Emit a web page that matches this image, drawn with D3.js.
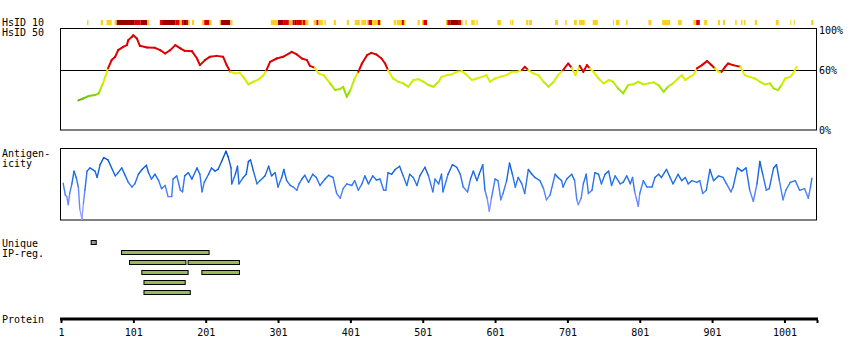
<!DOCTYPE html>
<html><head><meta charset="utf-8">
<script src="https://cdn.jsdelivr.net/npm/d3@7"></script>
<style>
html,body{margin:0;padding:0;background:#fff;}
text{font-family:"DejaVu Sans Mono",monospace;font-size:10px;fill:#000;}
</style></head>
<body><svg id="c" width="850" height="360"></svg>
<script>
// ---- data ----
const proteinLength = 1046;
const axisTicks = [1,101,201,301,401,501,601,701,801,901,1001];
const pctLabels = ["100%","60%","0%"];
// HsID10 strip segments: [start, end, level] level 1=yellow 2=red 3=dark red
const hsid10 = [
[37,39,1],[56,59,1],[64,71,1],[75,78,1],[78,103,3],[103,111,2],[111,120,3],[120,123,1],
[137,138,1],[138,142,2],[142,159,3],[159,165,2],[165,168,1],[168,170,2],[170,175,3],[175,177,2],[177,179,1],[182,185,1],
[196,199,1],[199,206,2],[206,209,1],[220,222,1],[222,235,3],[235,238,1],
[291,301,1],[301,308,3],[308,316,2],[316,321,1],[321,324,2],[324,326,3],[326,334,2],[334,335,1],[335,339,2],[339,343,1],
[350,354,1],[354,357,2],[357,363,1],[365,367,1],[378,381,1],[396,399,1],[407,414,1],[416,423,1],[424,426,1],[426,431,2],[431,439,1],[439,442,2],[442,443,1],
[461,464,1],[465,472,1],[472,475,2],[475,477,1],[494,497,1],[500,502,1],[502,507,2],
[533,535,1],[535,539,2],[539,551,3],[551,554,2],[554,556,1],[560,562,1],[568,573,1],[575,577,1],
[604,609,1],[622,623,1],[624,626,1],[644,647,1],[648,652,1],[684,688,1],[698,700,1],[710,714,1],[717,725,1],[736,743,1],
[764,765,1],[768,773,1],[782,784,1],[813,817,1],[832,843,1],[854,859,1],[875,879,1],[879,884,2],[890,894,1],[909,912,1],
[916,919,1],[933,935,1],[941,943,1],[945,947,1],[960,963,1],[989,993,1],[1009,1010,1],[1014,1015,1],[1038,1041,1]
];
// HsID50 trace: [residue, percent]
const hsid50 = [
[25,29.5],[32,31.5],[39,33.8],[48,34.8],[53,36.5],[55,39.8],[59,46.5],[63,54.7],[66,61.4],[71,69.7],[76,73.1],[80,79.6],
[87,82.9],[92,84.6],[94,89.6],[99,92.9],[101,94.5],[106,91.2],[110,83.9],[120,82.3],[131,81.9],[138,79.6],[145,76.3],
[152,79.6],[159,84.6],[166,81.3],[172,78.9],[182,78.6],[189,71.3],[193,64.7],[200,69.7],[207,73.1],[216,73.9],[225,73.1],
[230,64.7],[235,58],[242,56.4],[248,57],[253,53],[260,45.5],[267,48.1],[274,50.4],[281,54.7],[285,59.7],[290,68],[299,71.3],
[308,73],[320,77.9],[327,75.3],[334,71.3],[341,69.7],[345,64],[352,62],[357,56.4],[364,54.7],[373,46.5],[380,39.8],[387,40.8],
[391,43.1],[396,33.1],[401,39.8],[407,51.4],[412,58],[417,66.3],[424,74.6],[430,76.9],[437,75.3],[444,71.3],[449,66.3],
[453,59.7],[460,51.4],[467,48.1],[474,46.5],[481,43.1],[488,49.8],[495,50.7],[502,48.1],[509,44.8],[516,43.1],[523,48.1],
[527,53],[534,54.7],[541,55.4],[548,58],[555,58.7],[562,54.7],[569,49.8],[576,51.4],[583,53],[589,54.7],[594,48.1],[601,51.4],
[608,53],[617,54.7],[624,58],[631,58],[638,59.7],[642,63],[647,59.7],[654,56.4],[661,54.7],[668,48.1],[675,43.1],[682,48.1],
[688,54.7],[695,59.7],[702,66.3],[707,62],[712,54.7],[718,64],[723,58],[728,64.7],[732,61.4],[737,58],[744,51.4],[751,46.5],
[758,49.8],[764,48.1],[771,41.5],[778,36.5],[785,44.8],[792,45.5],[799,48.1],[806,45.5],[813,46.5],[820,47.5],[827,44.8],
[834,38.1],[840,43.1],[847,46.5],[854,51.4],[859,54.7],[864,49.8],[870,53],[875,54.7],[880,61.4],[887,64.7],[894,68.7],
[900,64.7],[905,61.4],[910,58],[914,58],[919,63],[923,66.3],[930,64.7],[940,63],[946,54.7],[953,53],[960,51.4],[967,48.1],
[974,45.5],[981,46.5],[986,41.5],[992,39.8],[997,44.8],[1002,51.4],[1009,53],[1013,56.4],[1018,63]
];
// Antigenicity trace: [residue, relative score 0-100]
const antigen = [
[4,51.8],[7,34.7],[9,32.4],[11,20.8],[13,37],[16,50.9],[19,69.4],[22,60.2],[25,46.3],[27,13.9],[30,0],[32,23.1],[34,41.7],
[37,69.4],[41,74],[48,69.4],[51,60.2],[55,78.7],[60,88.9],[66,85.6],[71,74],[76,62.5],[80,67.1],[85,74],[90,62.5],[94,53.2],
[99,46.3],[103,50.9],[108,64.8],[113,71.8],[119,77.8],[122,67.1],[126,57.9],[131,64.8],[136,55.6],[140,44],[145,48.6],
[149,32.4],[154,32.4],[156,57.9],[161,62.5],[166,41.7],[169,39.3],[172,62.5],[177,67.1],[182,57.9],[189,74],[193,64.8],
[196,39.3],[199,53.2],[205,64.8],[209,74],[214,69.4],[218,71.8],[223,83.3],[229,98.1],[232,90.3],[236,74],[237,50.9],
[242,64.8],[245,76.4],[247,50.9],[253,60.2],[257,64.8],[260,83.3],[263,85.6],[267,69.4],[272,50.9],[276,55.6],[283,62.5],
[288,76.4],[292,62.5],[297,67.1],[301,46.3],[306,60.2],[309,71.8],[313,55.6],[318,48.6],[322,46.3],[327,41.7],[330,50.9],
[334,57.9],[338,63.4],[343,53.2],[349,64.8],[354,60.2],[359,48.6],[366,57.9],[371,63.4],[377,60.2],[382,37],[387,30.1],
[391,44],[396,50.9],[403,48.6],[407,55.6],[412,41.7],[417,50.9],[421,62.5],[426,50.9],[432,62.5],[437,56.5],[442,57.9],
[447,41.7],[450,41.7],[453,67.1],[458,64.8],[463,71.8],[469,76.4],[474,62.5],[479,48.6],[483,64.8],[488,60.2],[493,48.6],
[497,62.5],[504,75],[509,62.5],[515,39.3],[518,57.9],[523,50.9],[527,64.8],[529,39.3],[536,64.8],[542,78.7],[548,75],
[553,64.8],[557,46.3],[563,39.3],[567,57.9],[571,69.4],[576,55.6],[579,64.8],[584,78.7],[587,41.7],[590,30.1],[593,11.5],
[596,30.1],[601,57.9],[605,55.6],[609,27.8],[612,37],[617,55.6],[621,81],[625,64.8],[629,46.3],[633,60.2],[638,50.9],
[642,37],[647,71.8],[652,64.8],[656,60.2],[663,55.6],[668,44],[672,27.8],[677,34.7],[684,64.8],[688,60.2],[693,55.6],
[695,46.3],[700,57.9],[707,64.8],[711,55.6],[714,27.8],[716,20.8],[720,30.1],[723,50.9],[727,64.8],[730,37],[735,41.7],
[739,67.1],[744,64.8],[748,50.9],[753,64.8],[758,69.4],[762,48.6],[767,62.5],[774,50.9],[778,53.2],[783,62.5],[788,50.9],
[791,60.2],[794,39.3],[799,18.5],[801,37],[806,55.6],[811,46.3],[818,46.3],[822,60.2],[827,64.8],[831,60.2],[838,71.8],
[843,60.2],[847,50.9],[854,64.8],[859,55.6],[864,60.2],[868,50.9],[873,55.6],[880,53.2],[884,55.6],[888,37],[893,41.7],
[898,71.8],[903,55.6],[910,62.5],[916,60.2],[921,50.9],[927,39.3],[930,46.3],[936,74],[942,69.4],[948,74],[953,41.7],
[958,25.5],[963,50.9],[967,83.3],[971,64.8],[976,41.7],[980,44],[986,74],[990,78.7],[994,55.6],[999,27.8],[1003,41.7],
[1009,53.2],[1016,55.6],[1022,41.7],[1029,44],[1034,30.1],[1037,46.3],[1039,59.3]
];
// Unique IP regions: [start, end, row]
const uniqueRegion = [[42,49,0]];
const ipRegions = [[84,205,1],[95,173,2],[176,247,2],[112,176,3],[195,247,3],[115,172,4],[115,179,5]];

// ---- drawing ----
const svg = d3.select("#c");
const x = d3.scaleLinear().domain([1, proteinLength]).range([61, 817]);
const L = 60, R = 817;

const labels = [["HsID 10",2,25.5],["HsID 50",2,36],["Antigen-",2,156.5],["icity",2,166.5],["Unique",2,246.5],["IP-reg.",2,257],["Protein",2,323]];
svg.selectAll("text.lbl").data(labels).join("text").attr("class","lbl")
  .attr("x",d=>d[1]).attr("y",d=>d[2]).text(d=>d[0]);

// HsID10 strip
const stripColor = {1:"#ffcc22",2:"#dd0000",3:"#990000"};
svg.append("g").selectAll("rect").data(hsid10).join("rect")
  .attr("x",d=>x(d[0])).attr("width",d=>Math.max(1,x(d[1])-x(d[0])))
  .attr("y",20).attr("height",5).attr("fill",d=>stripColor[d[2]]);

// HsID50 panel
const y1 = d3.scaleLinear().domain([0,100]).range([130,29.7]);
svg.append("rect").attr("x",L+0.5).attr("y",28.5).attr("width",R-L-1).attr("height",101.5)
  .attr("fill","none").attr("stroke","#000").attr("stroke-width",1);
svg.append("line").attr("x1",L).attr("x2",R).attr("y1",Math.round(y1(60))+0.5).attr("y2",Math.round(y1(60))+0.5)
  .attr("stroke","#000").attr("stroke-width",1);
const pcts=[100,60,0];
svg.selectAll("text.pct").data(pcts).join("text").attr("class","pct")
  .attr("x",819).attr("y",d=>y1(d)+4).text((d,i)=>pctLabels[i]);
const lowScale = d3.scaleLinear().domain([28,36,48,60]).range(["#44aa00","#88dd00","#ccee00","#eeee00"]).clamp(true);
const hsColor = v => v>=60 ? "#dd0000" : lowScale(v);
const line1 = d3.line().x(d=>x(d[0])).y(d=>y1(d[1]));
const g1 = svg.append("g");
for (let i=0;i<hsid50.length-1;i++){
  const a=hsid50[i], b=hsid50[i+1];
  g1.append("path").attr("d",line1([a,b])).attr("fill","none")
    .attr("stroke",hsColor((a[1]+b[1])/2)).attr("stroke-width",2).attr("stroke-linecap","round");
}

// Antigenicity panel
const y2 = d3.scaleLinear().domain([0,100]).range([219,150]);
svg.append("rect").attr("x",L+0.5).attr("y",148.5).attr("width",R-L-1).attr("height",71.5)
  .attr("fill","none").attr("stroke","#000").attr("stroke-width",1);
const agColor = d3.scaleLinear().domain([0,30,60,100]).range(["#aaaaff","#6688ff","#1a6ee8","#0044bb"]);
const line2 = d3.line().x(d=>x(d[0])).y(d=>y2(d[1]));
const g2 = svg.append("g");
for (let i=0;i<antigen.length-1;i++){
  const a=antigen[i], b=antigen[i+1];
  g2.append("path").attr("d",line2([a,b])).attr("fill","none")
    .attr("stroke",agColor((a[1]+b[1])/2)).attr("stroke-width",1.4).attr("stroke-linecap","round");
}

// IP regions
svg.append("g").selectAll("rect").data(uniqueRegion).join("rect")
  .attr("x",d=>x(d[0])+0.5).attr("width",d=>x(d[1])-x(d[0]))
  .attr("y",240.5).attr("height",4).attr("fill","#999999").attr("stroke","#000");
svg.append("g").selectAll("rect").data(ipRegions).join("rect")
  .attr("x",d=>x(d[0])+0.5).attr("width",d=>x(d[1])-x(d[0]))
  .attr("y",d=>240.5+d[2]*10).attr("height",4).attr("fill","#99bb55").attr("stroke","#000");

// Protein axis
const axis = d3.axisBottom(x).tickValues(axisTicks.concat([proteinLength])).tickSize(3).tickPadding(5.5)
  .tickFormat(d=> axisTicks.includes(d) ? String(d) : "");
const ga = svg.append("g").attr("transform","translate(0,320)").call(axis);
ga.select(".domain").remove();
ga.selectAll(".tick line").attr("stroke","#000").attr("stroke-width",2);
ga.selectAll(".tick text").style("font-family","DejaVu Sans Mono").style("font-size","10px").attr("fill","#000");
svg.append("rect").attr("x",x(1)-1).attr("y",317.5).attr("width",x(proteinLength)-x(1)+2).attr("height",3).attr("fill","#000");
</script></body></html>
